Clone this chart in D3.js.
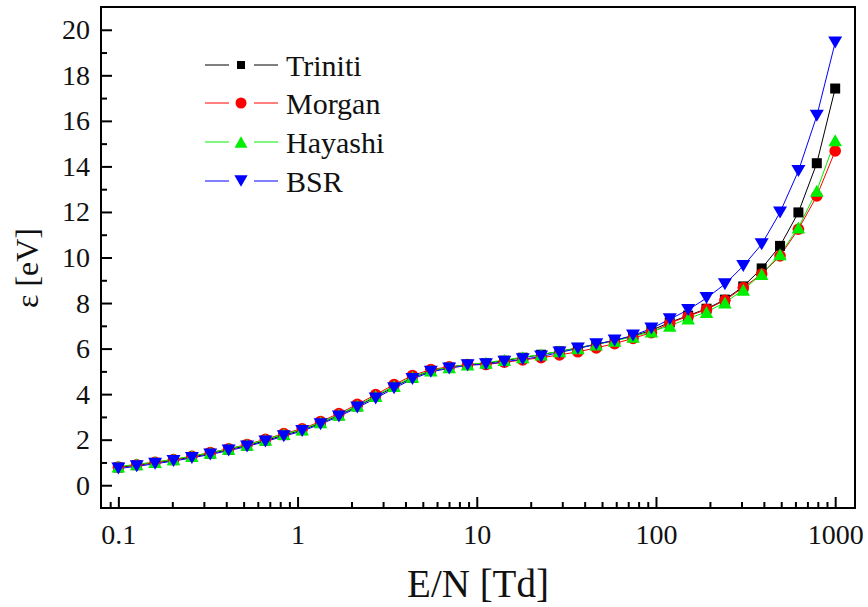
<!DOCTYPE html>
<html>
<head>
<meta charset="utf-8">
<script src="https://cdn.jsdelivr.net/npm/d3@7"></script>
<style>
  html, body { margin: 0; padding: 0; background: #fff; }
  svg { display: block; }
</style>
</head>
<body>
<svg id="chart" width="868" height="607"></svg>
<script>
// ---- data ----
const eN = [0.1, 0.1266, 0.1603, 0.2031, 0.2572, 0.3257, 0.4125, 0.5224, 0.6615, 0.8377,
  1.0608, 1.3434, 1.7013, 2.1544, 2.7283, 3.4551, 4.3755, 5.541, 7.017, 8.886,
  11.253, 14.251, 18.047, 22.855, 28.943, 36.652, 46.416, 58.78, 74.44, 94.27,
  119.38, 151.18, 191.45, 242.45, 307.03, 388.8, 492.4, 623.5, 789.6, 1000];
const triniti = [0.78, 0.88, 0.98, 1.10, 1.24, 1.39, 1.56, 1.74, 1.96, 2.20,
  2.42, 2.73, 3.07, 3.46, 3.88, 4.32, 4.72, 5.02, 5.17, 5.30,
  5.35, 5.47, 5.60, 5.73, 5.88, 6.03, 6.20, 6.36, 6.55, 6.80,
  7.15, 7.45, 7.75, 8.15, 8.73, 9.52, 10.51, 11.98, 14.14, 17.42];
const morgan = [0.80, 0.90, 1.01, 1.13, 1.27, 1.43, 1.60, 1.79, 2.02, 2.27,
  2.48, 2.80, 3.15, 3.55, 3.98, 4.42, 4.82, 5.08, 5.20, 5.30,
  5.30, 5.40, 5.50, 5.60, 5.72, 5.86, 6.03, 6.22, 6.45, 6.70,
  7.12, 7.42, 7.72, 8.12, 8.68, 9.27, 10.07, 11.24, 12.70, 14.68];
const hayashi = [0.82, 0.92, 1.02, 1.14, 1.28, 1.43, 1.60, 1.78, 2.00, 2.25,
  2.45, 2.76, 3.10, 3.50, 3.92, 4.36, 4.76, 5.04, 5.18, 5.30,
  5.38, 5.50, 5.62, 5.74, 5.88, 6.02, 6.18, 6.34, 6.52, 6.75,
  7.00, 7.32, 7.61, 8.02, 8.58, 9.27, 10.14, 11.32, 12.93, 15.15];
const bsr = [0.73, 0.83, 0.94, 1.06, 1.20, 1.35, 1.52, 1.70, 1.92, 2.15,
  2.38, 2.68, 3.02, 3.41, 3.81, 4.26, 4.66, 4.98, 5.13, 5.27,
  5.31, 5.42, 5.53, 5.65, 5.83, 6.00, 6.19, 6.36, 6.58, 6.88,
  7.29, 7.70, 8.22, 8.83, 9.63, 10.58, 11.98, 13.80, 16.22, 19.44];
const seriesNames = ["Triniti", "Morgan", "Hayashi", "BSR"];
const xMajorTicks = [0.1, 1, 10, 100, 1000];
const xMajorLabels = ["0.1", "1", "10", "100", "1000"];
const yMajorTicks = [0, 2, 4, 6, 8, 10, 12, 14, 16, 18, 20];
const yMinorTicks = [1, 3, 5, 7, 9, 11, 13, 15, 17, 19];
const xTitle = "E/N [Td]";
const yTitle = "\u03b5 [eV]";

// ---- setup ----
const font = "'Liberation Serif', 'Times New Roman', serif";
const svg = d3.select("#chart");
const L = 101, R = 855, T = 7, B = 508;
const x = d3.scaleLog().domain([0.08, 1290]).range([L, R]);
const y = d3.scaleLinear().domain([-1, 21]).range([B, T]);

const xMinorTicks = [];
[0.01, 0.1, 1, 10, 100].forEach(d => { for (let k = 2; k <= 9; k++) { const v = +(d * k).toPrecision(3); if (v >= 0.085 && v < 1000) xMinorTicks.push(v); } });

const series = [
  { name: seriesNames[0], vals: triniti, color: "#000000", sym: "square" },
  { name: seriesNames[1], vals: morgan, color: "#ff0000", sym: "circle" },
  { name: seriesNames[2], vals: hayashi, color: "#00ee00", sym: "up" },
  { name: seriesNames[3], vals: bsr, color: "#0000ff", sym: "down" }
];

function drawSymbol(g, sym, cx, cy, color, scale) {
  const s = scale || 1;
  if (sym === "square") {
    const a = 10 * s;
    g.append("rect").attr("x", cx - a / 2).attr("y", cy - a / 2).attr("width", a).attr("height", a).attr("fill", color);
  } else if (sym === "circle") {
    g.append("circle").attr("cx", cx).attr("cy", cy).attr("r", 5.8 * s).attr("fill", color);
  } else if (sym === "up") {
    const w = 13.5 * s, h = 12 * s;
    g.append("path").attr("d", `M${cx},${cy - h / 2}L${cx + w / 2},${cy + h / 2}L${cx - w / 2},${cy + h / 2}Z`).attr("fill", color);
  } else {
    const w = 14 * s, h = 12 * s;
    g.append("path").attr("d", `M${cx - w / 2},${cy - h / 2}L${cx + w / 2},${cy - h / 2}L${cx},${cy + h / 2}Z`).attr("fill", color);
  }
}

// ---- series ----
const line = d3.line().x(d => x(d[0])).y(d => y(d[1]));
series.forEach(s => {
  const pts = eN.map((v, i) => [v, s.vals[i]]);
  svg.append("path").datum(pts).attr("d", line).attr("fill", "none").attr("stroke", s.color).attr("stroke-width", 1);
});
series.forEach(s => {
  const g = svg.append("g");
  eN.forEach((v, i) => drawSymbol(g, s.sym, x(v), y(s.vals[i]), s.color, 1));
});

// ---- axes ----
const axisStyle = g => {
  g.select(".domain").remove();
  g.selectAll(".tick line").attr("stroke", "#000").attr("stroke-width", 2);
  g.selectAll("text").attr("font-family", font).attr("font-size", 28).attr("fill", "#111");
};
svg.append("g").attr("transform", `translate(0,${B})`)
  .call(d3.axisBottom(x).tickValues(xMinorTicks).tickSize(-6).tickFormat(""))
  .call(axisStyle);
svg.append("g").attr("transform", `translate(0,${B})`)
  .call(d3.axisBottom(x).tickValues(xMajorTicks).tickSize(-11).tickPadding(16)
    .tickFormat((d, i) => xMajorLabels[i]))
  .call(axisStyle)
  .call(g => g.selectAll("text").attr("dy", "0.71em"));
svg.append("g").attr("transform", `translate(${L},0)`)
  .call(d3.axisLeft(y).tickValues(yMinorTicks).tickSize(-6).tickFormat(""))
  .call(axisStyle);
svg.append("g").attr("transform", `translate(${L},0)`)
  .call(d3.axisLeft(y).tickValues(yMajorTicks).tickSize(-11).tickPadding(11).tickFormat(d3.format("d")))
  .call(axisStyle);

svg.append("rect").attr("x", L).attr("y", T).attr("width", R - L).attr("height", B - T)
  .attr("fill", "none").attr("stroke", "#000").attr("stroke-width", 2);

// ---- titles ----
svg.append("text").attr("x", 478).attr("y", 597).attr("text-anchor", "middle")
  .attr("font-family", font).attr("font-size", 39).attr("fill", "#111").text(xTitle);
svg.append("text").attr("transform", "translate(38,268) rotate(-90)").attr("text-anchor", "middle")
  .attr("font-family", font).attr("font-size", 32).attr("fill", "#111").text(yTitle);

// ---- legend ----
const legY = [65, 103, 142, 181];
series.forEach((s, i) => {
  const g = svg.append("g");
  const cy = legY[i];
  g.append("line").attr("x1", 205).attr("x2", 229).attr("y1", cy).attr("y2", cy).attr("stroke", s.color).attr("stroke-width", 1);
  g.append("line").attr("x1", 254).attr("x2", 278).attr("y1", cy).attr("y2", cy).attr("stroke", s.color).attr("stroke-width", 1);
  drawSymbol(g, s.sym, 241, cy, s.color, s.sym === "square" ? 0.8 : 0.95);
  g.append("text").attr("x", 286).attr("y", cy + 10.5).attr("font-family", font).attr("font-size", 30)
    .attr("fill", "#111").text(s.name);
});
</script>
</body>
</html>
